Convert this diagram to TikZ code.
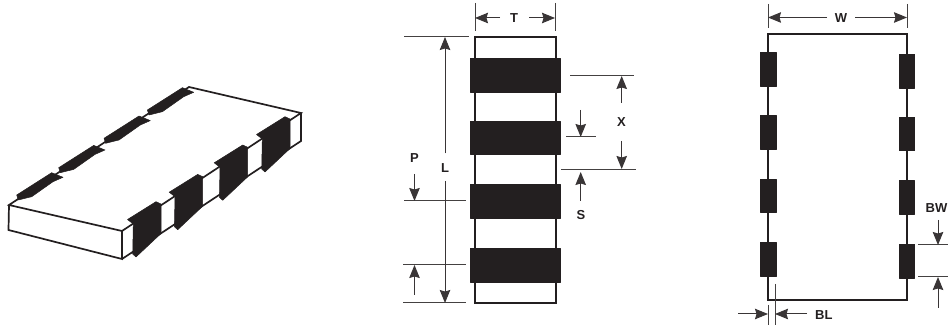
\documentclass[tikz,border=0pt]{standalone}
\usepackage{fontspec}
\setmainfont{Liberation Sans}
\usetikzlibrary{arrows.meta}
\definecolor{ink}{HTML}{231F20}
\tikzset{
 outline/.style={draw=ink,line width=1.7pt,line join=miter},
 padfill/.style={fill=ink,draw=ink,line width=0.5pt,line join=round},
 extline/.style={draw=ink!85,line width=1pt},
 dimline/.style={draw=ink!90,line width=1pt,-{Stealth[length=13pt,width=10.5pt,inset=1.5pt]}},
 lbl/.style={font=\bfseries\fontsize{13}{14}\selectfont,text=ink,inner sep=0pt},
}
\begin{document}
\begin{tikzpicture}[x=1pt,y=-1pt]
\useasboundingbox (0,0) rectangle (948,328);
% isometric part
\draw[outline] (9,205) -- (122,231) -- (301,113) -- (189,87) -- cycle;
\draw[outline] (9,205) -- (8.5,230) -- (122,259) -- (122,231);
\draw[outline] (122,259) -- (301,141) -- (301,113);
\foreach \dx/\dy in {0/0,41.7/-27.3,86.7/-56.7,129/-85}{
 \begin{scope}[shift={(\dx,\dy)}]
 \fill[padfill] (127.5,219.5) -- (156,201.7) -- (161,204) -- (161,233.5) -- (136,257) -- (132.7,254) -- (133.3,224) -- cycle;
 \end{scope}}
\foreach \dx/\dy in {0/0,42/-27.3,87.3/-56.7,130.7/-85}{
 \begin{scope}[shift={(\dx,\dy)}]
 \fill[padfill] (16.7,195) -- (51.7,172.7) -- (63,177.3) -- (53,181.7) -- (31.7,196.7) -- (18.3,200) -- cycle;
 \end{scope}}
% middle view
\draw[outline] (475,36.7) rectangle (555.7,303);
\foreach \a/\b in {58/92,121/154,184/218,248/282}
 \fill[padfill] (470.7,\a) rectangle (560,\b);
\coordinate (tl) at (475,3); \coordinate (tlb) at (475,31);
\coordinate (tr) at (555,3); \coordinate (trb) at (555,31);
\draw[extline] (tl) -- (tlb);
\draw[extline] (tr) -- (trb);
\node[lbl] (T) at (514,18) {T};
\coordinate (ta) at (475,18); \coordinate (tb) at (555,18);
\draw[dimline] (500,18) -- (ta);
\draw[dimline] (529,18) -- (tb);
\draw[extline] (404,37) -- (469,37);
\draw[extline] (403,303) -- (466,303);
\draw[extline] (404,201) -- (466,201);
\draw[extline] (403,265) -- (466,265);
\node[lbl] (L) at (445,168.5) {L};
\node[lbl] (P) at (414.5,158) {P};
\draw[dimline] (445,153.5) -- (445,37);
\draw[dimline] (445,181) -- (445,303);
\draw[dimline] (414.5,174) -- (414.5,201);
\draw[dimline] (414.5,295) -- (414.5,265);
\draw[extline] (570,76) -- (634,76);
\draw[extline] (561,169.5) -- (636,169.5);
\draw[extline] (566,137) -- (596,137);
\node[lbl] (X) at (621.5,122) {X};
\node[lbl] (S) at (581,215) {S};
\draw[dimline] (621.7,103) -- (621.7,76);
\draw[dimline] (621.7,141) -- (621.7,169);
\draw[dimline] (580.7,110) -- (580.7,137);
\draw[dimline] (580.7,201) -- (580.7,172);
% right view
\draw[outline] (767.7,33.7) rectangle (906.7,299.7);
\foreach \a/\b in {52.7/86.7,115/149,179/212.7,242.7/276.7}
 \fill[padfill] (760.7,\a) rectangle (776,\b);
\foreach \a/\b in {54/88,117/150.7,180.7/214,244/278}
 \fill[padfill] (899,\a) rectangle (914.7,\b);
\draw[extline] (768,4) -- (768,28);
\draw[extline] (907,4) -- (907,28);
\node[lbl] (W) at (841,18) {W};
\draw[dimline] (827,17.5) -- (768,17.5);
\draw[dimline] (855,17.5) -- (907,17.5);
\node[lbl,anchor=east] (BW) at (947.5,208) {BW};
\draw[extline] (918,245) -- (948,245);
\draw[extline] (918,277) -- (948,277);
\draw[dimline] (938,220) -- (938,245);
\draw[dimline] (938,308) -- (938,277);
\draw[extline] (768,305) -- (768,325);
\draw[extline] (775,284) -- (775,325);
\node[lbl,anchor=west] (BL) at (815,315) {BL};
\draw[dimline] (738,314) -- (768,314);
\draw[dimline] (807,314) -- (775,314);
\end{tikzpicture}
\end{document}
